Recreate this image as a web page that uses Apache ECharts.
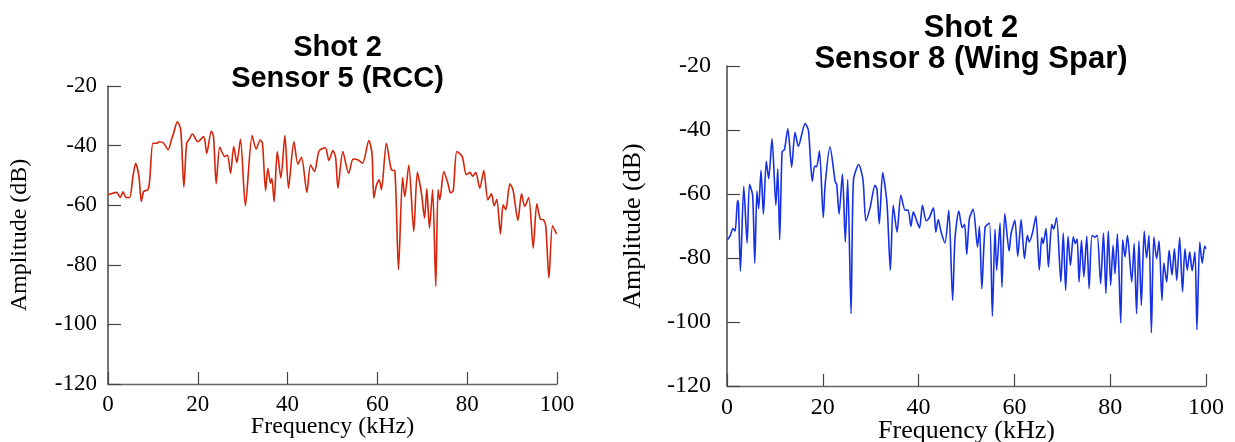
<!DOCTYPE html>
<html>
<head>
<meta charset="utf-8">
<script src="https://cdn.jsdelivr.net/npm/echarts@6/dist/echarts.min.js"></script>
<style>
html,body{margin:0;padding:0;background:#fff;}
#c{width:1235px;height:442px;}
</style>
</head>
<body>
<div id="c"></div>
<script>
// ---- Data ----
const xTicks = [0, 20, 40, 60, 80, 100];
const yTicks = [-120, -100, -80, -60, -40, -20];

const freqL = [0,1.0,1.9,2.75,3.35,3.94,4.83,5.5,6.17,6.9,7.43,7.95,8.9,9.29,10.0,10.8,11.5,12.4,13.4,14.1,14.6,15.45,16.2,16.9,17.5,18.0,18.8,20.0,21.3,22.0,23.0,23.5,24.1,24.9,26.0,26.6,27.3,28.0,28.7,29.5,30.6,32.1,33.0,33.9,34.4,35.1,35.6,36.2,36.5,37.0,37.7,38.5,39.4,40.2,41.4,42.3,43.1,44.3,45.1,46.0,47.0,48.4,49.2,50.1,50.7,51.2,52.3,53.6,54.6,55.7,56.7,58.1,58.8,59.2,59.8,60.4,60.9,62.0,63.1,63.9,64.7,65.6,66.1,67.0,68.1,68.9,69.8,70.5,71.0,71.6,72.3,73.0,73.5,73.9,74.8,75.7,76.3,76.9,77.7,78.9,79.8,80.6,81.2,81.9,82.8,83.7,84.6,85.4,86.0,86.6,87.4,88.0,88.6,89.5,90.2,91.3,92.1,92.8,93.7,94.7,95.5,96.3,97.0,97.5,98.2,99.0,99.9];
const ampL = [-56.5,-56.0,-55.7,-57.4,-55.5,-57.3,-57.4,-51,-45.9,-50.4,-58.8,-55.4,-54.8,-51.5,-39.2,-39.2,-38.7,-39.2,-41.4,-38.1,-35.9,-32.0,-34.7,-53.9,-39.2,-38.1,-36.1,-38.7,-37.0,-42.6,-35.1,-37.0,-52.8,-40.5,-43.7,-43.2,-49.3,-40.3,-45.7,-37.9,-60.2,-36.6,-41.2,-38.1,-39.2,-55.1,-47.6,-52.6,-51,-58.8,-42.0,-50.9,-36.6,-54.3,-38.7,-46.2,-43.9,-55.7,-46.5,-48.7,-41.8,-40.7,-45.0,-41.7,-44.0,-54.3,-42.0,-49.3,-44.5,-44.8,-45.9,-38.3,-42.6,-57.6,-53.2,-51.5,-54.8,-39.2,-48.1,-48.5,-81.6,-50.7,-57.1,-46.5,-68.8,-49.0,-55.9,-64.3,-54.5,-67.7,-54.8,-87.2,-54.8,-58.2,-48.7,-52.6,-55.9,-55.0,-42.0,-43.7,-49.8,-49.0,-50.3,-49.0,-54.3,-48.4,-58.2,-56.2,-60.2,-58.0,-69.6,-59.9,-61.5,-52.8,-54.8,-65.1,-56.2,-60.4,-57.4,-74.4,-59.5,-64.7,-64.9,-67,-84.4,-66.9,-69.6];

const freqR = [0.1,0.7,1.25,1.7,2.2,2.4,2.8,3.5,4.2,4.7,5.35,5.8,6.25,6.6,7.1,7.6,8.2,8.7,9.4,10.2,10.6,11.0,11.5,12.0,12.7,13.5,14.2,14.9,16.3,17.0,17.8,18.3,18.7,19.3,20.1,20.5,21.5,22.6,22.9,23.4,24.1,24.7,25.2,25.9,26.4,27.5,28.4,29.0,29.9,30.9,31.3,31.8,32.5,33.4,34.1,34.7,35.5,36.3,37.2,37.8,38.4,38.9,39.6,40.2,40.8,41.6,42.2,43.1,43.6,44.1,44.7,45.5,46.3,47.1,47.6,48.4,49.1,49.6,50.05,50.6,51.4,52.3,52.7,53.2,53.9,54.8,55.4,55.95,56.3,57.0,57.4,58.0,58.9,59.3,60.1,60.7,61.4,62.1,62.7,63.1,63.8,64.5,65.2,65.7,66.0,66.6,67.1,67.8,68.2,68.8,69.7,70.2,70.7,71.2,71.7,72.3,72.7,73.1,73.5,74.0,74.5,75.1,75.6,76.2,76.8,77.3,78.0,78.6,79.1,79.6,80.1,80.6,81.0,81.5,82.2,82.6,83.1,83.6,84.5,85.0,85.5,86.0,86.5,87.1,87.6,88.1,88.6,89.1,89.7,90.2,90.8,91.2,91.8,92.3,92.9,93.4,93.9,94.5,95.1,95.6,96.1,96.6,97.1,97.7,98.1,98.7,99.2,99.75,100];
const ampR = [-74.3,-72.9,-70.8,-71.6,-62.0,-63,-84.1,-57.6,-75.3,-57.0,-60.4,-81.6,-59.1,-64.6,-52.6,-66.3,-49.8,-55.2,-42.7,-63.5,-52.1,-74.3,-46.9,-46.1,-39.6,-51.6,-40.8,-45.1,-38.0,-40.1,-56.0,-51.3,-51.5,-46.6,-67.4,-56.8,-45.3,-56.2,-57,-66.3,-53.8,-75.0,-55.5,-97.4,-55.7,-50.8,-55.7,-68.4,-64.1,-57.3,-58.5,-69.3,-53.3,-63.0,-83.8,-63.5,-71.9,-60.4,-65.1,-65.0,-70.1,-65.6,-68.4,-70.6,-63.5,-68.4,-67.5,-64.3,-71.9,-68.0,-71.9,-75.3,-65.1,-93.2,-73.9,-65.3,-70.5,-69.5,-78.9,-67.7,-64.8,-76.6,-70.1,-89.6,-70.3,-69.1,-98.2,-71.0,-83.8,-69.1,-89.1,-66.1,-77.8,-72.5,-68.2,-79.5,-68.0,-80.2,-72.9,-75,-72,-66.9,-83.8,-73.6,-75.5,-70.8,-82.8,-69.5,-71,-67.4,-87.5,-72.2,-90.1,-73.2,-82.3,-73.4,-75.5,-74,-87.5,-74.5,-85.9,-73.2,-89.6,-72.9,-73.5,-72.9,-88.0,-72.2,-91.1,-71.6,-88.5,-76.0,-85,-72.4,-100.3,-74.3,-79.7,-72.9,-87.5,-75.5,-97.4,-74.7,-94.8,-71.6,-80,-72.9,-103.4,-73.4,-80.2,-74.7,-93.2,-81.6,-87.5,-77.6,-85.4,-77.1,-87.0,-73.6,-90.6,-77.1,-83.8,-78.1,-84,-78.1,-102.4,-75.0,-81.6,-76.3,-77.1];

const titleL = 'Shot 2\nSensor 5 (RCC)';
const titleR = 'Shot 2\nSensor 8 (Wing Spar)';
const xName = 'Frequency (kHz)';
const yName = 'Amplitude (dB)';

const serif = 'Liberation Serif, Times New Roman, serif';
const sans = 'Liberation Sans, Arial, sans-serif';

function xAxis(gi, fs, lblMargin, nameGap, nameFs) {
  return {
    type: 'value', gridIndex: gi, min: xTicks[0], max: xTicks[xTicks.length-1], interval: 20,
    name: xName, nameLocation: 'middle', nameGap: nameGap, nameMoveOverlap: false,
    nameTextStyle: {fontFamily: serif, fontSize: nameFs, color: '#000'},
    axisLine: {show: true, lineStyle: {color: '#666', width: 1.3}},
    axisTick: {show: true, inside: true, length: 12, lineStyle: {color: '#444', width: 1.2}},
    axisLabel: {fontFamily: serif, fontSize: fs, color: '#000', margin: lblMargin},
    splitLine: {show: false}
  };
}
function yAxis(gi, fs, lblMargin, nameGap, nameFs) {
  return {
    type: 'value', gridIndex: gi, min: yTicks[0], max: yTicks[yTicks.length-1], interval: 20,
    name: yName, nameLocation: 'middle', nameGap: nameGap, nameMoveOverlap: false,
    nameTextStyle: {fontFamily: serif, fontSize: nameFs, color: '#000'},
    axisLine: {show: true, lineStyle: {color: '#444', width: 1.5}},
    axisTick: {show: true, inside: true, length: 13, lineStyle: {color: '#444', width: 1.2}},
    axisLabel: {fontFamily: serif, fontSize: fs, color: '#000', margin: lblMargin, padding: [0, 0, 5, 0]},
    splitLine: {show: false}
  };
}

const chart = echarts.init(document.getElementById('c'), null, {renderer: 'canvas'});
chart.setOption({
  backgroundColor: '#fff',
  animation: false,
  title: [
    {text: titleL, left: 337.5, top: 32, textAlign: 'center', padding: 0,
     textStyle: {fontFamily: sans, fontWeight: 'bold', fontSize: 29, lineHeight: 31, color: '#000'}},
    {text: titleR, left: 971, top: 12.5, textAlign: 'center', padding: 0,
     textStyle: {fontFamily: sans, fontWeight: 'bold', fontSize: 31, lineHeight: 31.5, color: '#000'}}
  ],
  grid: [
    {left: 108, top: 86, width: 449, height: 298, containLabel: false, outerBoundsMode: 'none'},
    {left: 727, top: 66, width: 479, height: 320, containLabel: false, outerBoundsMode: 'none'}
  ],
  xAxis: [xAxis(0, 23, 9, 31, 24), xAxis(1, 24, 10, 32, 26)],
  yAxis: [yAxis(0, 23, 11, 76, 24), yAxis(1, 24, 16, 81, 26)],
  series: [
    {type: 'line', xAxisIndex: 0, yAxisIndex: 0, showSymbol: false, smooth: 0.25,
     lineStyle: {color: 'rgb(212,36,10)', width: 1.6},
     data: freqL.map((f, i) => [f, ampL[i]])},
    {type: 'line', xAxisIndex: 1, yAxisIndex: 1, showSymbol: false, smooth: 0.25,
     lineStyle: {color: 'rgb(22,48,228)', width: 1.6},
     data: freqR.map((f, i) => [f, ampR[i]])}
  ]
});
</script>
</body>
</html>
